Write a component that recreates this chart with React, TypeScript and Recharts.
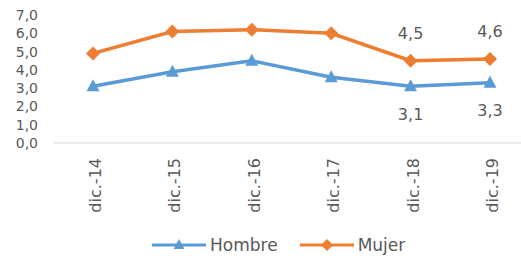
import React from 'react';
import { ComposedChart, Line, XAxis, YAxis, Legend, LabelList } from 'recharts';

const categories = ['dic.-14', 'dic.-15', 'dic.-16', 'dic.-17', 'dic.-18', 'dic.-19'];
const hombre = [3.1, 3.9, 4.5, 3.6, 3.1, 3.3];
const mujer = [4.9, 6.1, 6.2, 6.0, 4.5, 4.6];
const yTicks = [0, 1, 2, 3, 4, 5, 6, 7];

const data = categories.map((c, i) => ({ name: c, hombre: hombre[i], mujer: mujer[i] }));

const BLUE = '#5B9BD5';
const ORANGE = '#ED7D31';
const TEXT = '#595959';
const FONT = '"DejaVu Sans", sans-serif';

const fmt = (v: number) => v.toFixed(1).replace('.', ',');

const Triangle = (props: any) => {
  const { cx, cy, fill } = props;
  if (cx == null || cy == null) return null;
  return <polygon points={`${cx},${cy - 7} ${cx - 6.5},${cy + 5} ${cx + 6.5},${cy + 5}`} fill={fill} />;
};

const Diamond = (props: any) => {
  const { cx, cy, fill } = props;
  if (cx == null || cy == null) return null;
  return <polygon points={`${cx},${cy - 7} ${cx + 7},${cy} ${cx},${cy + 7} ${cx - 7},${cy}`} fill={fill} />;
};

const XTick = (props: any) => {
  const { x, y, payload } = props;
  return (
    <g transform={`translate(${x},${y + 7}) rotate(-90)`}>
      <text x={0} y={8} textAnchor="end" fill={TEXT} fontSize={16} fontFamily={FONT}>
        {payload.value}
      </text>
    </g>
  );
};

const makeLabel = (below: boolean) => (props: any) => {
  const { x, y, value, index } = props;
  if (index < 4) return null;
  return (
    <text x={x} y={below ? y + 28 : y - 27} textAnchor="middle" dominantBaseline="central" fill={TEXT} fontSize={16} fontFamily={FONT}>
      {fmt(value)}
    </text>
  );
};

const LegendContent = () => (
  <div style={{ height: 50, paddingTop: 13, boxSizing: 'border-box', display: 'flex', alignItems: 'center', paddingLeft: 152, fontFamily: FONT, fontSize: 17, color: TEXT }}>
    <svg width={54} height={14}>
      <line x1={0} y1={7} x2={54} y2={7} stroke={BLUE} strokeWidth={3} />
      <polygon points="27,1 21.5,11 32.5,11" fill={BLUE} />
    </svg>
    <span style={{ marginLeft: 4, marginRight: 22 }}>Hombre</span>
    <svg width={54} height={14}>
      <line x1={0} y1={7} x2={54} y2={7} stroke={ORANGE} strokeWidth={3} />
      <polygon points="27,1 33,7 27,13 21,7" fill={ORANGE} />
    </svg>
    <span style={{ marginLeft: 4 }}>Mujer</span>
  </div>
);

export default function App() {
  return (
    <div style={{ position: 'absolute', left: 0, top: 0, width: 521, height: 263, overflow: 'hidden', background: '#fff' }}>
      <ComposedChart width={540} height={263} data={data} margin={{ top: 15, right: 10, left: 0, bottom: 0 }}>
        <XAxis dataKey="name" height={70} tick={<XTick />} tickLine={false} axisLine={{ stroke: '#D9D9D9', strokeWidth: 1 }}
          interval={0} padding={{ left: 40, right: 40 }} />
        <YAxis width={53} domain={[0, 7]} ticks={yTicks} interval={0} tickFormatter={fmt} axisLine={false} tickLine={false} tickSize={0} tickMargin={15}
          tick={{ fill: TEXT, fontSize: 14, fontFamily: FONT }} />
        <Legend verticalAlign="bottom" content={<LegendContent />} />
        <Line dataKey="hombre" stroke={BLUE} strokeWidth={3.5} dot={<Triangle fill={BLUE} />} activeDot={false} isAnimationActive={false}>
          <LabelList dataKey="hombre" content={makeLabel(true)} />
        </Line>
        <Line dataKey="mujer" stroke={ORANGE} strokeWidth={3.5} dot={<Diamond fill={ORANGE} />} activeDot={false} isAnimationActive={false}>
          <LabelList dataKey="mujer" content={makeLabel(false)} />
        </Line>
      </ComposedChart>
    </div>
  );
}
